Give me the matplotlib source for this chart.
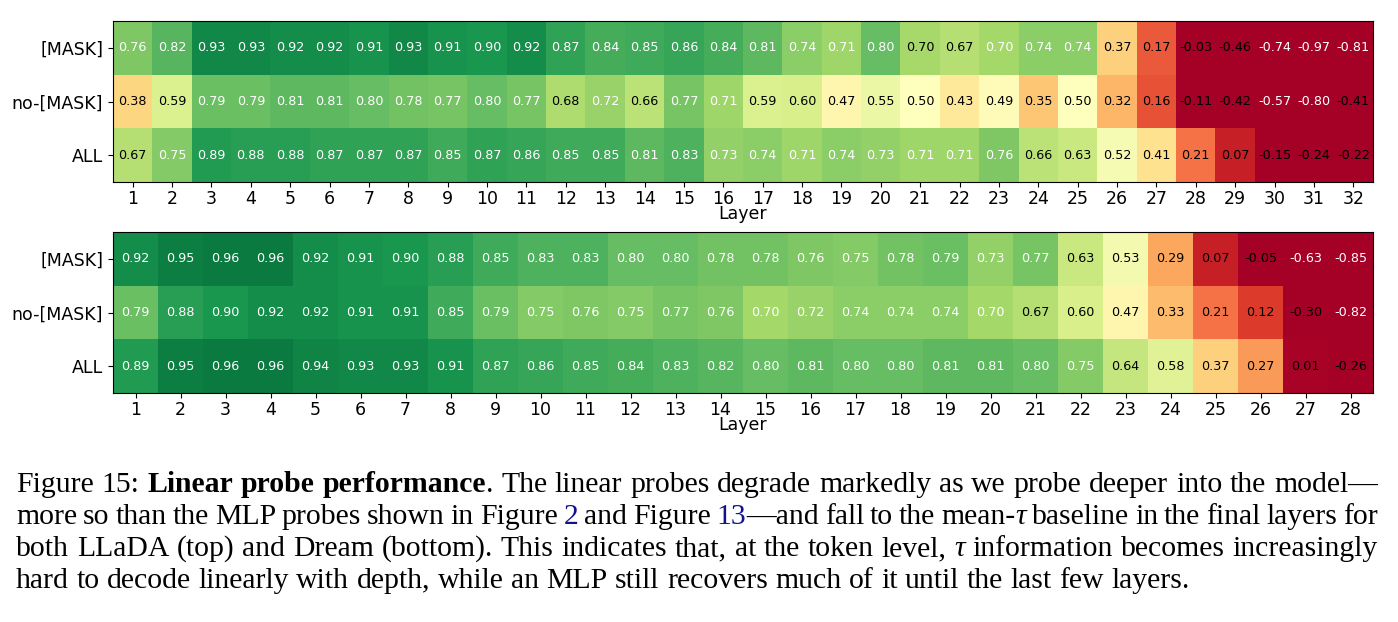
"""
Linear probe heatmaps (LLaDA top, Dream bottom) with the figure caption.
Run:  python plot.py
"""

import matplotlib
matplotlib.use("Agg")
import matplotlib.pyplot as plt
import numpy as np

ROWS = ["[MASK]", "no-[MASK]", "ALL"]

LLADA_MASK = [0.76, 0.82, 0.93, 0.93, 0.92, 0.92, 0.91, 0.93, 0.91, 0.90, 0.92,
              0.87, 0.84, 0.85, 0.86, 0.84, 0.81, 0.74, 0.71, 0.80, 0.698, 0.67,
              0.70, 0.74, 0.74, 0.37, 0.17, -0.03, -0.46, -0.74, -0.97, -0.81]
LLADA_NOMASK = [0.38, 0.59, 0.79, 0.79, 0.81, 0.81, 0.80, 0.78, 0.77, 0.80, 0.77,
                0.68, 0.72, 0.66, 0.77, 0.71, 0.59, 0.60, 0.47, 0.55, 0.50, 0.43,
                0.49, 0.35, 0.50, 0.32, 0.16, -0.11, -0.42, -0.57, -0.80, -0.41]
LLADA_ALL = [0.67, 0.75, 0.89, 0.88, 0.88, 0.87, 0.87, 0.87, 0.85, 0.87, 0.86,
             0.85, 0.85, 0.81, 0.83, 0.73, 0.74, 0.71, 0.74, 0.73, 0.71, 0.71,
             0.76, 0.66, 0.63, 0.52, 0.41, 0.21, 0.07, -0.15, -0.24, -0.22]

DREAM_MASK = [0.92, 0.95, 0.96, 0.96, 0.92, 0.91, 0.90, 0.88, 0.85, 0.83, 0.83,
              0.80, 0.80, 0.78, 0.78, 0.76, 0.75, 0.78, 0.79, 0.73, 0.77, 0.63,
              0.53, 0.29, 0.07, -0.05, -0.63, -0.85]
DREAM_NOMASK = [0.79, 0.88, 0.90, 0.92, 0.92, 0.91, 0.91, 0.85, 0.79, 0.75, 0.76,
                0.75, 0.77, 0.76, 0.70, 0.72, 0.74, 0.74, 0.74, 0.70, 0.67, 0.60,
                0.47, 0.33, 0.21, 0.12, -0.30, -0.82]
DREAM_ALL = [0.89, 0.95, 0.96, 0.96, 0.94, 0.93, 0.93, 0.91, 0.87, 0.86, 0.85,
             0.84, 0.83, 0.82, 0.80, 0.81, 0.80, 0.80, 0.81, 0.81, 0.80, 0.75,
             0.64, 0.58, 0.37, 0.27, 0.01, -0.26]

LINK = "#12128f"
# caption lines; |b: bold, |i: italic, |l: link colour, bare | just splits runs
CAPTION = [
    "Figure 15: |b:Linear |b:probe |b:performance|. The linear probes degrade "
    "markedly as we probe deeper into the model—",
    "more so than the MLP probes shown in Figure |l:2 and Figure |l:13|—and fall "
    "to the mean-|i:τ baseline in the final layers for",
    "both LLaDA (top) and Dream (bottom). This indicates that, at the token level, "
    "|i:τ information becomes increasingly",
    "hard to decode linearly with depth, while an MLP still recovers much of it "
    "until the last few layers.",
]


def heatmap(ax, rows):
    data = np.array(rows)
    ax.imshow(data, cmap="RdYlGn", vmin=0, vmax=1, aspect="auto",
              interpolation="nearest")
    for i in range(data.shape[0]):
        for j in range(data.shape[1]):
            v = data[i, j]
            col = "white" if (v >= 0.70 or v <= -0.5) else "black"
            ax.text(j, i, f"{v:.2f}", ha="center", va="center", color=col,
                    fontsize=9.2)
    ax.set_xticks(np.arange(data.shape[1]), [str(k + 1) for k in range(data.shape[1])],
                  fontsize=12.5)
    ax.set_yticks(np.arange(len(ROWS)), ROWS, fontsize=12.5)
    ax.tick_params(axis="x", pad=2)
    ax.set_xlabel("Layer", fontsize=12.5, labelpad=-2)


def parse_word(word):
    runs = []
    for part in word.split("|"):
        if not part:
            continue
        if part[:2] == "b:":
            runs.append((part[2:], dict(weight="bold")))
        elif part[:2] == "i:":
            runs.append((part[2:], dict(style="italic")))
        elif part[:2] == "l:":
            runs.append((part[2:], dict(color=LINK)))
        else:
            runs.append((part, {}))
    return runs


def caption(fig, lines, x0=16, x1=1378, y0=492, step=32.0, size=21.45):
    r = fig.canvas.get_renderer()
    H = fig.bbox.height
    for n, line in enumerate(lines):
        words = [parse_word(w) for w in line.split(" ")]
        y = H - (y0 + n * step)
        placed = []
        widths = []
        for runs in words:
            w = 0
            items = []
            for txt, kw in runs:
                t = fig.text(0, y, txt, transform=None, fontsize=size,
                             family="Liberation Serif", va="baseline",
                             color=kw.get("color", "black"),
                             weight=kw.get("weight", "normal"),
                             style=kw.get("style", "normal"))
                tw = t.get_window_extent(r).width
                items.append((t, w))
                w += tw
            placed.append(items)
            widths.append(w)
        if n < len(lines) - 1:
            gap = (x1 - x0 - sum(widths)) / (len(words) - 1)
        else:
            gap = size * 100 / 72 * 0.25
        x = x0
        for items, w in zip(placed, widths):
            for t, off in items:
                t.set_x(x + off)
            x += w + gap


def main():
    fig = plt.figure(figsize=(13.98, 6.22), dpi=100)
    W, H = 1398, 622
    ax1 = fig.add_axes([113 / W, 1 - 182 / H, 1260 / W, 161 / H])
    ax2 = fig.add_axes([113 / W, 1 - 393 / H, 1260 / W, 161 / H])
    heatmap(ax1, [LLADA_MASK, LLADA_NOMASK, LLADA_ALL])
    heatmap(ax2, [DREAM_MASK, DREAM_NOMASK, DREAM_ALL])
    caption(fig, CAPTION)
    fig.savefig("out.png", dpi=100)


if __name__ == "__main__":
    main()
